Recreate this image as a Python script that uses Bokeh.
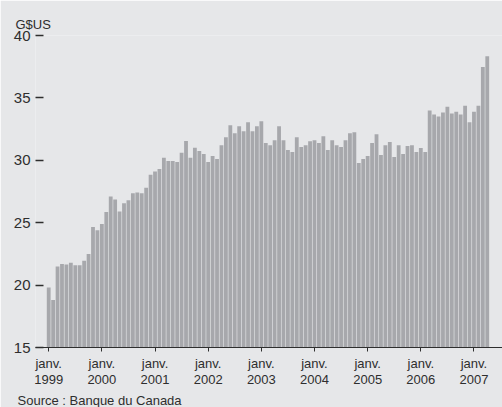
from bokeh.plotting import figure
from bokeh.models import FixedTicker, Range1d, ColumnDataSource, Title
from bokeh.embed import file_html
from bokeh.resources import INLINE

# Monthly values, janv. 1999 – avril 2007 (G$US)
values = [
    19.8, 18.8, 21.5, 21.7, 21.65, 21.8, 21.6, 21.6, 21.95, 22.5, 24.65, 24.4,
    24.9, 25.85, 27.1, 26.85, 25.9, 26.55, 26.8, 27.35, 27.42, 27.35, 27.8, 28.85,
    29.1, 29.3, 30.2, 29.95, 29.95, 29.87, 30.6, 31.55, 30.2, 31.0, 30.75, 30.5,
    29.87, 30.35, 30.1, 31.2, 31.85, 32.8, 32.17, 32.72, 32.33, 33.04, 32.33, 32.72,
    33.12, 31.38, 31.2, 31.61, 32.72, 31.61, 30.82, 30.66, 31.85, 31.06, 31.2, 31.53,
    31.61, 31.38, 31.93, 30.82, 31.61, 31.2, 31.06, 31.61, 32.17, 32.25, 29.79, 30.1,
    30.35, 31.38, 32.09, 30.43, 31.2, 31.46, 30.27, 31.2, 30.5, 31.14, 31.2, 30.66,
    30.98, 30.66, 33.99, 33.67, 33.51, 33.83, 34.3, 33.75, 33.9, 33.67, 34.38, 33.04,
    33.9, 34.38, 37.47, 38.34,
]
years = [1999, 2000, 2001, 2002, 2003, 2004, 2005, 2006, 2007]
year_tick_labels = ["janv.\n%d" % y for y in years]
y_ticks = [15, 20, 25, 30, 35, 40]
y_min, y_max = 15, 40
unit_label = "G$US"
source_text = "Source : Banque du Canada"

BG = "#e6e7e9"
BAR = "#a7a8ac"
INK = "#2e2e2e"
FONT = "Liberation Sans"

month_idx = list(range(len(values)))
src = ColumnDataSource(dict(x=month_idx, top=values))

p = figure(width=502, height=407, output_backend="svg", toolbar_location=None,
           x_range=Range1d(-2.98, 102.44), y_range=Range1d(y_min, y_max),
           min_border_left=35, min_border_right=0, min_border_top=35,
           min_border_bottom=0)
p.background_fill_color = BG
p.border_fill_color = BG
p.outline_line_color = None
p.xgrid.visible = False
p.ygrid.visible = False

p.vbar(x="x", top="top", bottom=y_min, width=0.86, source=src,
       fill_color=BAR, line_color=None)

# x axis
xa = p.xaxis[0]
xa.ticker = FixedTicker(ticks=[12 * i for i in range(len(years))])
xa.major_label_overrides = {12 * i: lab for i, lab in enumerate(year_tick_labels)}
xa.axis_line_color = INK
xa.axis_line_width = 1
xa.major_tick_line_color = INK
xa.major_tick_in = 0
xa.major_tick_out = 4
xa.minor_tick_line_color = None
xa.major_label_standoff = 4
xa.major_label_text_font = FONT
xa.major_label_text_font_size = "13px"
xa.major_label_text_color = INK
xa.major_label_text_line_height = 1.1

# y axis
ya = p.yaxis[0]
ya.ticker = FixedTicker(ticks=y_ticks)
ya.axis_line_color = None
ya.major_tick_line_color = INK
ya.major_tick_line_width = 1.3
ya.major_tick_in = 8
ya.major_tick_out = 0
ya.minor_tick_line_color = None
ya.major_label_standoff = 5
ya.major_label_text_font = FONT
ya.major_label_text_font_size = "15px"
ya.major_label_text_color = INK

p.add_layout(Title(text=unit_label, align="left", offset=-20, standoff=8,
                   text_font=FONT, text_font_size="13px", text_font_style="normal",
                   text_color=INK), "above")
p.add_layout(Title(text=source_text, align="left", offset=-18, standoff=0,
                   text_font=FONT, text_font_size="13px", text_font_style="normal",
                   text_color=INK), "below")

open("out.html", "w").write(file_html(p, INLINE))
